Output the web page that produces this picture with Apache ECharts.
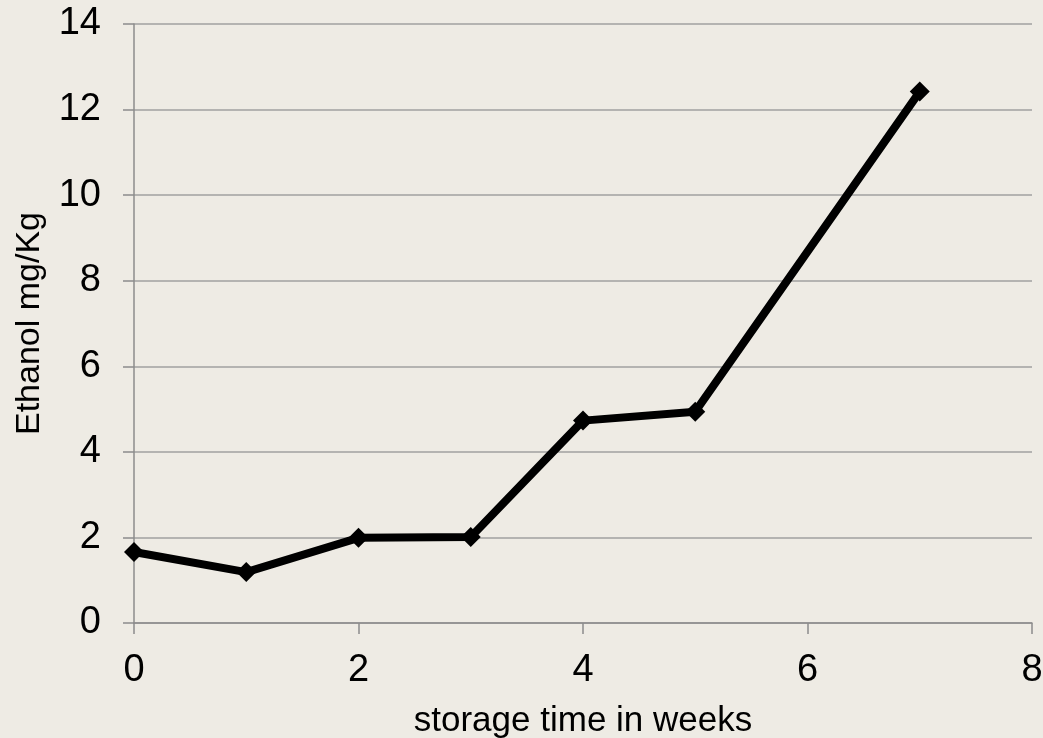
<!DOCTYPE html>
<html>
<head>
<meta charset="utf-8">
<script src="https://cdn.jsdelivr.net/npm/echarts@6/dist/echarts.min.js"></script>
<style>
  html, body { margin: 0; padding: 0; background: #EEEBE4; }
  #chart { width: 1043px; height: 738px; }
</style>
</head>
<body>
<div id="chart"></div>
<script>
// Ethanol content over storage time
const weeks = [0, 1, 2, 3, 4, 5, 7];
const ethanol = [1.66, 1.19, 1.99, 2.01, 4.73, 4.94, 12.42];
const xTitle = 'storage time in weeks';
const yTitle = 'Ethanol mg/Kg';

const points = weeks.map((w, i) => [w, ethanol[i]]);
const font = '"Liberation Sans", Arial, sans-serif';

const chart = echarts.init(document.getElementById('chart'));
chart.setOption({
  backgroundColor: '#EEEBE4',
  animation: false,
  grid: { left: 134, right: 11, top: 24, bottom: 115, outerBoundsMode: 'none', containLabel: false },
  xAxis: {
    type: 'value', min: 0, max: 8, interval: 2,
    name: xTitle, nameLocation: 'middle', nameGap: 81,
    nameTextStyle: { color: '#000', fontSize: 35, fontFamily: font },
    axisLine: { show: true, onZero: false, lineStyle: { color: '#8C8C8C', width: 1.5 } },
    axisTick: { show: true, length: 11, lineStyle: { color: '#8C8C8C', width: 1.5 } },
    axisLabel: { color: '#000', fontSize: 38, fontFamily: font, margin: 29 },
    splitLine: { show: false }
  },
  yAxis: {
    type: 'value', min: 0, max: 14, interval: 2,
    name: yTitle, nameLocation: 'middle', nameGap: 87, nameRotate: 90,
    nameTextStyle: { color: '#000', fontSize: 34, fontFamily: font },
    axisLine: { show: true, lineStyle: { color: '#8C8C8C', width: 1.5 } },
    axisTick: { show: true, length: 11, lineStyle: { color: '#8C8C8C', width: 1.5 } },
    axisLabel: { color: '#000', fontSize: 38, fontFamily: font, margin: 33 },
    splitLine: { show: true, lineStyle: { color: '#A0A0A0', width: 1.5 } }
  },
  series: [{
    type: 'line',
    data: points,
    symbol: 'diamond',
    symbolSize: 20,
    lineStyle: { color: '#000', width: 8 },
    itemStyle: { color: '#000' }
  }]
});
</script>
</body>
</html>
